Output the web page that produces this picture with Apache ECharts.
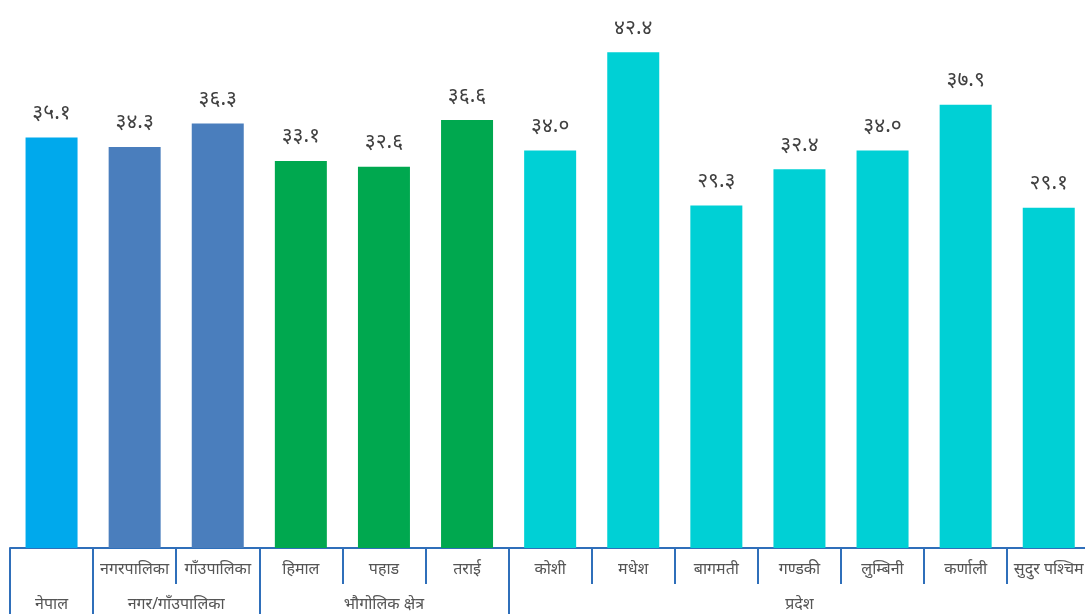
<!DOCTYPE html>
<html>
<head>
<meta charset="utf-8">
<script src="https://cdn.jsdelivr.net/npm/echarts@6/dist/echarts.min.js"></script>
<style>
  html, body { margin: 0; padding: 0; background: #ffffff; }
  #chart { width: 1085px; height: 614px; }
</style>
</head>
<body>
<div id="chart"></div>
<script>
// Categories (bottom row of the axis) and their values
const categories = ['नेपाल', 'नगरपालिका', 'गाँउपालिका', 'हिमाल', 'पहाड', 'तराई', 'कोशी', 'मधेश', 'बागमती', 'गण्डकी', 'लुम्बिनी', 'कर्णाली', 'सुदुर पश्चिम'];
const values = [35.1, 34.3, 36.3, 33.1, 32.6, 36.6, 34.0, 42.4, 29.3, 32.4, 34.0, 37.9, 29.1];
// Group each category belongs to
const groupOf = [0, 1, 1, 2, 2, 2, 3, 3, 3, 3, 3, 3, 3];
const groupNames = ['नेपाल', 'नगर/गाँउपालिका', 'भौगोलिक क्षेत्र', 'प्रदेश'];
const groupColors = ['#00a9ec', '#4a7ebd', '#00a84f', '#00d0d5'];

// Devanagari digits for the value labels
const devDigits = ['०', '१', '२', '३', '४', '५', '६', '७', '८', '९'];
function toDev(v) {
  return v.toFixed(1).replace(/[0-9]/g, d => devDigits[+d]);
}

// Second axis: 2 slots per category, points at boundaries (even) and centres (odd)
const n = categories.length;
const halfSlots = [];
for (let i = 0; i <= 2 * n; i++) halfSlots.push(String(i));
// where each group label sits, in half-slot units
const groupLabelAt = { 1: 0, 4: 1, 9: 2, 19: 3 };
// group boundaries, in half-slot units
const groupEdges = [0, 2, 6, 12, 2 * n];

const axisBlue = '#2f6fba';
const font = '"Noto Sans", "Noto Sans Devanagari", "Lohit Devanagari", sans-serif';

const chart = echarts.init(document.getElementById('chart'));
chart.setOption({
  animation: false,
  grid: { left: 10, top: 30, bottom: 66, width: 83.1 * n, containLabel: false, outerBoundsMode: 'none' },
  xAxis: [
    {
      type: 'category',
      data: categories,
      position: 'bottom',
      axisLine: { show: true, lineStyle: { color: axisBlue, width: 2 } },
      axisTick: { show: true, length: 36, lineStyle: { color: axisBlue, width: 2 } },
      axisLabel: {
        interval: 0,
        margin: 13,
        color: '#555',
        fontSize: 16,
        fontFamily: font,
        formatter: (v, i) => (i === 0 ? '' : v)
      },
      splitLine: { show: false }
    },
    {
      type: 'category',
      data: halfSlots,
      boundaryGap: false,
      position: 'bottom',
      axisLine: { show: false },
      axisTick: {
        show: true,
        length: 70,
        interval: (i) => groupEdges.indexOf(i) >= 0,
        lineStyle: { color: axisBlue, width: 2 }
      },
      axisLabel: {
        interval: 0,
        margin: 48,
        color: '#555',
        fontSize: 16,
        fontFamily: font,
        formatter: (v, i) => (groupLabelAt[i] !== undefined ? groupNames[groupLabelAt[i]] : '')
      },
      splitLine: { show: false }
    }
  ],
  yAxis: {
    type: 'value',
    min: 0,
    max: 44.3,
    show: false,
    splitLine: { show: false }
  },
  series: [
    {
      type: 'bar',
      xAxisIndex: 0,
      barWidth: 52,
      data: values.map((v, i) => ({ value: v, itemStyle: { color: groupColors[groupOf[i]] } })),
      label: {
        show: true,
        position: 'top',
        distance: 14,
        color: '#404040',
        fontSize: 21,
        fontFamily: font,
        formatter: p => toDev(p.value)
      }
    }
  ]
});
</script>
</body>
</html>
